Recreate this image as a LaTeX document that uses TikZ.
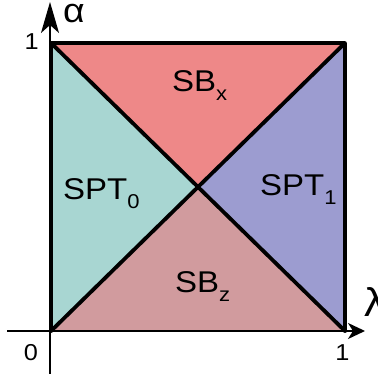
\documentclass[tikz,border=0pt]{standalone}
\usepackage{fontspec}
\setmainfont{Liberation Sans}[FakeStretch=1.1]
\usetikzlibrary{arrows.meta}
\definecolor{sbxred}{RGB}{238,136,136}
\definecolor{sptteal}{RGB}{168,214,210}
\definecolor{sptblue}{RGB}{156,156,208}
\definecolor{sbzpink}{RGB}{209,155,158}
\newcommand\lowidx[1]{\raisebox{-9pt}{\fontsize{20}{20}\selectfont #1}}

\begin{document}
\begin{tikzpicture}[x=1pt,y=1pt,
  phase/.style={inner sep=0pt,anchor=base west,font=\fontsize{30}{31}\selectfont},
  tick/.style={inner sep=0pt,font=\fontsize{23}{24}\selectfont},
  edge/.style={line width=3.8pt,line cap=round,line join=round},
  axis/.style={line width=1.6pt}]
\useasboundingbox (0,0) rectangle (378,374);
\coordinate (O) at (51,43);
\coordinate (A) at (345,43);
\coordinate (B) at (345,331);
\coordinate (C) at (51,331);
\coordinate (M) at (198,187);
\fill[sbxred] (C) -- (B) -- (M) -- cycle;
\fill[sptteal] (O) -- (C) -- (M) -- cycle;
\fill[sptblue] (A) -- (B) -- (M) -- cycle;
\fill[sbzpink] (O) -- (A) -- (M) -- cycle;
\draw[sbzpink!60!black,line width=0.8pt] (O) -- (A);
\draw[edge] (O) -- (C) -- (B) -- (A);
\draw[edge] (O) -- (B);
\draw[edge] (C) -- (A);
\coordinate (ybot) at (50,0);
\coordinate (ytop) at (50,372);
\coordinate (xleft) at (7,43);
\coordinate (xright) at (365,43);
\draw[axis,-{Stealth[length=31pt,width=18pt,inset=8pt]}] (ybot) -- (ytop);
\draw[axis,-{Stealth[length=17pt,width=16pt,inset=5pt]}] (xleft) -- (xright);
\node[phase] (sbx) at (172,282) {SB\lowidx{x}};
\node[phase] (spt0) at (63,174) {SPT\lowidx{0}};
\node[phase] (spt1) at (260,178) {SPT\lowidx{1}};
\node[phase] (sbz) at (175,81) {SB\lowidx{z}};
\node[tick,anchor=east] (one1) at (39,332) {1};
\node[tick] (zero) at (31,21) {0};
\node[tick] (one2) at (342.5,21) {1};
\node[inner sep=0pt,anchor=base west,text height=19pt,text depth=0pt,font=\fontsize{34}{34}\selectfont] (alpha) at (63,351) {α};
\node[inner sep=0pt,anchor=base west,font=\fontsize{40}{40}\selectfont] (lambda) at (364,57) {λ};
\end{tikzpicture}
\end{document}
